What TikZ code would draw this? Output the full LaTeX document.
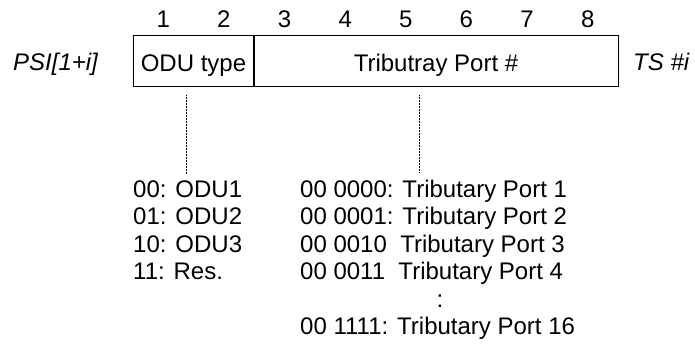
\documentclass[tikz,border=0pt]{standalone}
\usepackage{fontspec}
\setmainfont{Liberation Sans}
\begin{document}
\fontsize{24}{28}\selectfont
\begin{tikzpicture}[x=1pt,y=-1pt,
  field/.style={draw,line width=0.8pt,minimum height=51pt,inner sep=0pt,text height=23pt,text depth=0pt},
  bitno/.style={anchor=base,inner sep=0pt},
  entry/.style={anchor=base west,inner sep=0pt},
  side/.style={anchor=base west,inner sep=0pt,font=\itshape},
  link/.style={line width=0.9pt,dash pattern=on 0.9pt off 0.6pt}]
\useasboundingbox (0,0) rectangle (695,344);
\node[field,minimum width=121pt] (odu) at (193.5,60.5) {ODU type};
\node[field,minimum width=364pt] (port) at (436,60.5) {Tributray Port \#};
\draw[line width=2pt] (odu.north east) -- (odu.south east);
\node[side] (psi) at (13,71) {PSI[1+i]};
\node[side] (ts) at (633,71) {TS \#i};
\node[bitno] (b1) at (163.3,28) {1};
\node[bitno] (b2) at (223.9,28) {2};
\node[bitno] (b3) at (284.6,28) {3};
\node[bitno] (b4) at (345.2,28) {4};
\node[bitno] (b5) at (405.8,28) {5};
\node[bitno] (b6) at (466.4,28) {6};
\node[bitno] (b7) at (527.1,28) {7};
\node[bitno] (b8) at (587.7,28) {8};
\node[entry] (t1) at (133,197.5) {00: ODU1};
\node[entry] (t2) at (133,224.9) {01: ODU2};
\node[entry] (t3) at (133,252.3) {10: ODU3};
\node[entry] (t4) at (133,279.7) {11: Res.};
\node[entry] (p1) at (300,197.5) {00 0000: Tributary Port 1};
\node[entry] (p2) at (300,224.9) {00 0001: Tributary Port 2};
\node[entry] (p3) at (300,252.3) {00 0010\ \ Tributary Port 3};
\node[entry] (p4) at (300,279.7) {00 0011\ \ Tributary Port 4};
\node[bitno] (dots) at (440,307.1) {:};
\node[entry] (p16) at (300,334.5) {00 1111: Tributary Port 16};
\coordinate (tp) at ([xshift=119pt]p1.north west);
\draw[link,shorten <=9pt,shorten >=7pt] ([xshift=-1.5pt]odu.south -| t1.north) -- ([xshift=-1.5pt]t1.north);
\draw[link,shorten <=9pt,shorten >=7pt] (tp |- port.south) -- (tp);
\end{tikzpicture}
\end{document}
